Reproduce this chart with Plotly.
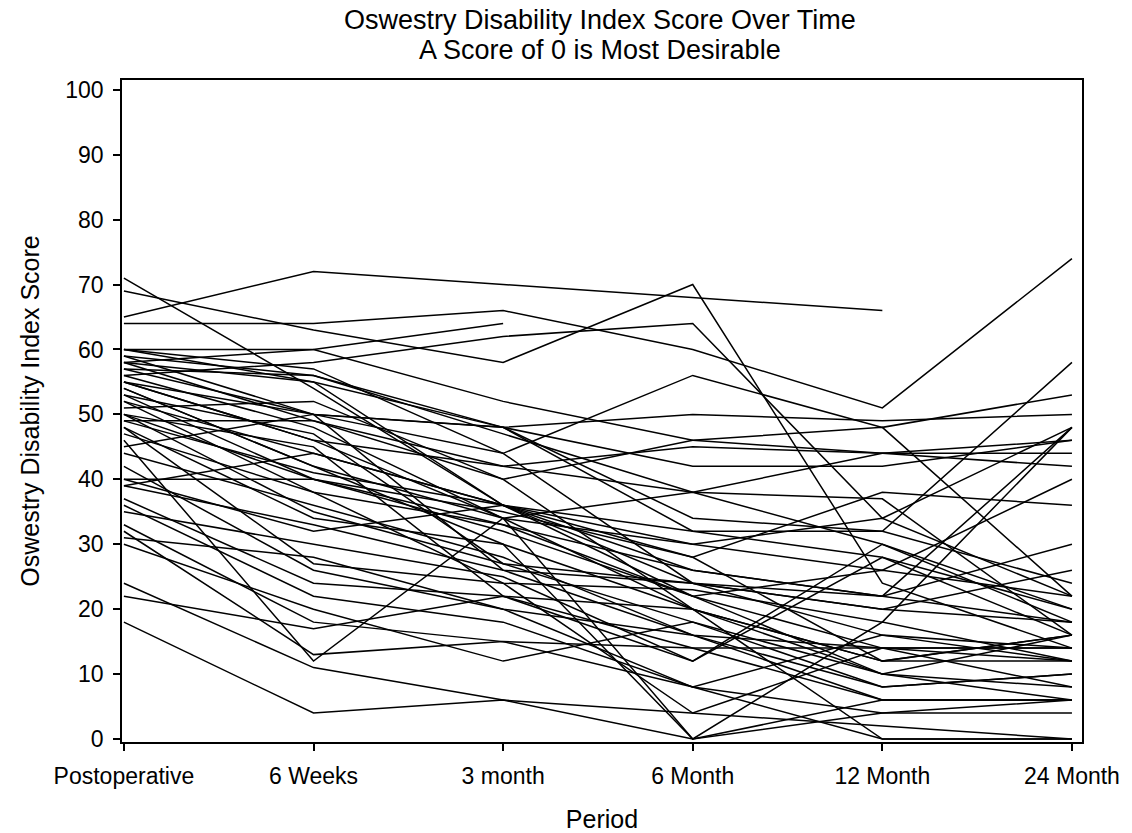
import plotly.graph_objects as go

periods = ["Postoperative", "6 Weeks", "3 month", "6 Month", "12 Month", "24 Month"]
yticks = [0, 10, 20, 30, 40, 50, 60, 70, 80, 90, 100]
title_lines = ["Oswestry Disability Index Score Over Time", "A Score of 0 is Most Desirable"]

# ODI score per subject at each period (None = missing)
s01 = [65, 72, 70, 68, 66, None]
s02 = [58, 60, 64, None, None, None]
s03 = [64, 64, 66, 60, 51, 74]
s04 = [69, 63, 58, 70, 24, 14]
s05 = [56, 58, 62, 64, 34, 48]
s06 = [71, 54, 36, 22, 14, 12]
s07 = [60, 60, 52, 46, 44, 42]
s08 = [55, 50, 44, 56, 48, 53]
s09 = [60, 55, 48, 50, 49, 50]
s10 = [57, 56, 47, 38, 44, 46]
s11 = [59, 50, 48, 42, 42, 46]
s12 = [58, 49, 40, 46, 48, 22]
s13 = [55, 46, 42, 45, 44, 44]
s14 = [54, 42, 34, 30, 26, 40]
s15 = [53, 40, 35, 28, 38, 36]
s16 = [52, 44, 36, 32, 32, 58]
s17 = [50, 40, 33, 26, 22, 48]
s18 = [50, 35, 27, 24, 22, 30]
s19 = [49, 41, 36, 24, 20, 26]
s20 = [48, 34, 30, 20, 12, 16]
s21 = [48, 27, 24, 23, 18, 48]
s22 = [47, 38, 33, 22, 10, 16]
s23 = [45, 50, 48, 34, 32, 24]
s24 = [44, 36, 28, 16, 8, 10]
s25 = [42, 26, 20, 16, 14, 14]
s26 = [40, 40, 32, 22, 26, 22]
s27 = [39, 44, 36, 26, 22, 18]
s28 = [39, 33, 26, 24, 16, 12]
s29 = [37, 24, 22, 14, 6, 6]
s30 = [36, 22, 18, 8, 16, 14]
s31 = [35, 30, 25, 12, 30, 18]
s32 = [46, 12, 34, 38, 30, 20]
s33 = [33, 18, 15, 8, 4, 6]
s34 = [32, 13, 15, 14, 14, 14]
s35 = [31, 28, 20, 8, 0, 0]
s36 = [30, 20, 12, 18, 10, 8]
s37 = [24, 11, 6, 0, 6, 6]
s38 = [22, 17, 22, 20, 12, 12]
s39 = [18, 4, 6, 4, 2, 0]
s40 = [60, 57, 44, 24, 20, 18]
s41 = [57, 50, 26, 16, 6, 6]
s42 = [56, 48, 34, 0, 4, 4]
s43 = [55, 46, 34, 20, 0, 0]
s44 = [54, 42, 30, 0, 18, 12]
s45 = [52, 38, 24, 4, 14, 8]
s46 = [51, 52, 40, 20, 10, 6]
s47 = [50, 45, 22, 12, 28, 20]
s48 = [58, 55, 36, 28, 12, 16]
s49 = [49, 49, 42, 38, 37, 16]
s50 = [53, 47, 27, 18, 8, 10]
s51 = [59, 56, 48, 32, 28, 16]
s52 = [40, 32, 36, 30, 34, 22]

subjects = [s01, s02, s03, s04, s05, s06, s07, s08, s09, s10, s11, s12, s13,
            s14, s15, s16, s17, s18, s19, s20, s21, s22, s23, s24, s25, s26,
            s27, s28, s29, s30, s31, s32, s33, s34, s35, s36, s37, s38, s39,
            s40, s41, s42, s43, s44, s45, s46, s47, s48, s49, s50, s51, s52]

xpos = list(range(len(periods)))

fig = go.Figure()
for s in subjects:
    fig.add_trace(go.Scatter(x=xpos, y=s, mode="lines",
                             line=dict(color="black", width=1.5),
                             connectgaps=False, showlegend=False,
                             hoverinfo="y"))

font_family = "Liberation Sans, Arial, sans-serif"
plot_h = 833 - 80 - 91
fig.update_layout(
    width=1132, height=833,
    paper_bgcolor="white", plot_bgcolor="white",
    margin=dict(l=122, r=50, t=80, b=91, autoexpand=False),
    font=dict(family=font_family, color="black", size=23),
    annotations=[
        dict(text=t, x=0.498, y=(833 - 91 - ypix) / plot_h, xref="paper", yref="paper",
             xanchor="center", yanchor="middle", showarrow=False, font=dict(size=27))
        for t, ypix in zip(title_lines, [20, 50])
    ],
)

fig.update_xaxes(
    range=[-0.01, 5.053], tickvals=xpos, ticktext=periods,
    showgrid=False, zeroline=False,
    showline=True, linecolor="black", linewidth=1.5, mirror=True,
    ticks="outside", ticklen=7, tickcolor="black", tickwidth=1.5,
    tickfont=dict(size=23), ticklabelstandoff=6,
    title=dict(text="Period", font=dict(size=25), standoff=28),
    automargin=False,
)
fig.update_yaxes(
    range=[-0.46, 101.5], tickvals=yticks,
    showgrid=False, zeroline=False,
    showline=True, linecolor="black", linewidth=1.5, mirror=True,
    ticks="outside", ticklen=7, tickcolor="black", tickwidth=1.5,
    tickfont=dict(size=23), ticklabelstandoff=5,
    title=dict(text="Oswestry Disability Index Score", font=dict(size=25), standoff=19),
    automargin=False,
)

fig.write_html("out.html", config={"displayModeBar": False},
               post_script="document.body.style.margin='0';")
